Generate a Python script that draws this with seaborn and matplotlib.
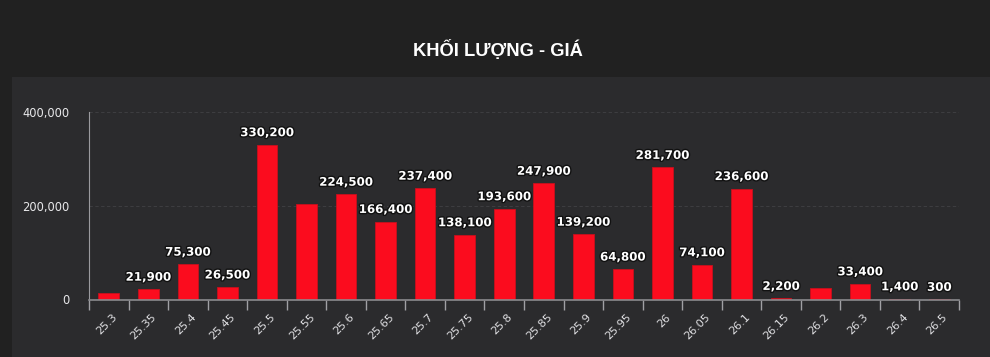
import pandas as pd
import seaborn as sns
import matplotlib.pyplot as plt
import matplotlib.patheffects as pe
from matplotlib.patches import Rectangle
from matplotlib.ticker import FuncFormatter
from matplotlib.transforms import ScaledTranslation

# dữ liệu khối lượng theo giá
gia = ['25.3', '25.35', '25.4', '25.45', '25.5', '25.55', '25.6', '25.65', '25.7', '25.75', '25.8',
       '25.85', '25.9', '25.95', '26', '26.05', '26.1', '26.15', '26.2', '26.3', '26.4', '26.5']
khoi_luong = [14000, 21900, 75300, 26500, 330200, 203700, 224500, 166400, 237400, 138100, 193600,
              247900, 139200, 64800, 281700, 74100, 236600, 2200, 23600, 33400, 1400, 300]
# nhãn bị ẩn vì chồng lên nhau
an_nhan = ['25.3', '25.55', '26.2']

dados = pd.DataFrame({'Gia': gia, 'KhoiLuong': khoi_luong})

fig = plt.figure(figsize=(9.9, 3.57), dpi=100, facecolor='#212121')
fig.patches.append(Rectangle((12 / 990, 0), 1, 280 / 357, transform=fig.transFigure,
                             facecolor='#2b2b2d', edgecolor='none', zorder=-10))
fig.text(0.503, 1 - 50 / 357, 'KHỐI LƯỢNG - GIÁ', ha='center', va='center', color='white',
         fontsize=13.2, fontweight='bold', family='Liberation Sans')

ax = fig.add_axes([89 / 990, 57.5 / 357, 870 / 990, 187.5 / 357])
ax.set_zorder(5)
ax.set_facecolor('none')
sns.barplot(x='Gia', y='KhoiLuong', data=dados, color='#fb0c1e', saturation=1, width=0.52,
            edgecolor='#c8101c', linewidth=0.6, ax=ax)

ax.set_xlim(-0.5, len(gia) - 0.5)
ax.set_ylim(0, 400000)
ax.set_yticks([0, 200000, 400000])
ax.yaxis.set_major_formatter(FuncFormatter(lambda v, p: f'{int(v):,}'))
ax.set_xlabel('')
ax.set_ylabel('')

for s in ['top', 'right']:
    ax.spines[s].set_visible(False)
ax.spines['left'].set_color('#9a9a9e')
ax.spines['left'].set_linewidth(0.8)
ax.spines['bottom'].set_color('#8a8a8e')
ax.spines['bottom'].set_linewidth(1.2)

ax.tick_params(axis='y', length=0, colors='#e8e8ea', labelsize=8.3, pad=14)
ax.set_xticks(range(len(gia)))
ax.set_xticklabels(gia, rotation=45, ha='right', rotation_mode='anchor')
ax.tick_params(axis='x', length=0, colors='#e0e0e3', labelsize=8, pad=9)
for lbl in ax.get_xticklabels():
    lbl.set_transform(lbl.get_transform() + ScaledTranslation(3 / 100, 0, fig.dpi_scale_trans))
# vạch chia giữa các cột
ax.set_xticks([i - 0.5 for i in range(len(gia) + 1)], minor=True)
ax.tick_params(axis='x', which='minor', length=7.5, width=1, color='#a0a0a4')

ax.grid(axis='y', color='#414144', linestyle=(0, (4, 3)), linewidth=0.6)
ax.set_axisbelow(True)

for i, (g, v) in enumerate(zip(gia, khoi_luong)):
    if g in an_nhan:
        continue
    ax.annotate(f'{v:,}', (i, v), xytext=(0, 4), textcoords='offset points', ha='center',
                va='bottom', color='white', fontsize=8.5, fontweight='bold', clip_on=False,
                path_effects=[pe.withStroke(linewidth=2, foreground='#111111')])

plt.savefig('out.png', dpi=100, facecolor=fig.get_facecolor())
